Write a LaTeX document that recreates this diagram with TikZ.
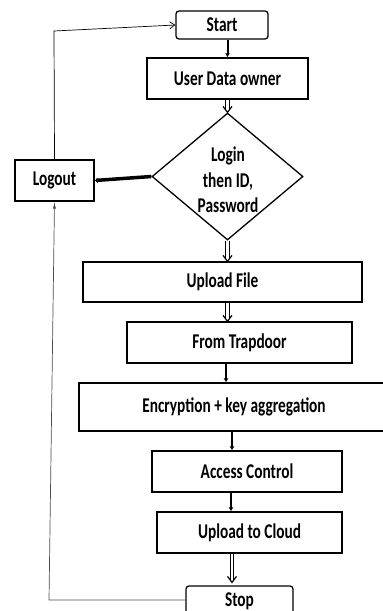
\documentclass[tikz,border=0pt]{standalone}
\usepackage{fontspec}
\setmainfont[FakeStretch=0.73]{Carlito}
\usetikzlibrary{shapes.geometric,arrows.meta,calc}
\begin{document}
\begin{tikzpicture}[x=1pt,y=-1pt,
  box/.style={draw, line width=1.3pt, inner sep=0pt, align=center,
    font=\bfseries\fontsize{21}{25.5}\selectfont},
  txt/.style={inner sep=0pt, align=center, font=\bfseries\fontsize{21}{25.5}\selectfont},
  thk/.style={line width=2pt, -{Latex[length=4pt,width=5pt]}},
  rail/.style={line width=1.2pt, black},
  dbltip/.style={line width=1.2pt, black, line join=miter},
  thin/.style={line width=0.7pt}]
\useasboundingbox (0,0) rectangle (383,611);
\node[box, minimum width=92pt, minimum height=28pt, rounded corners=3pt] (start) at (222,25) {Start};
\node[box, minimum width=161pt, minimum height=41pt] (user) at (227.5,78.5) {User Data owner};
\node[draw, diamond, line width=1.3pt, minimum width=151pt, minimum height=127pt, inner sep=0pt] (dia) at (227.5,176.5) {};
\node[txt] (diatext) at (228,180) {Login\\then ID,\\Password};
\node[box, minimum width=79pt, minimum height=41pt] (logout) at (54.5,180.5) {Logout};
\node[box, minimum width=279pt, minimum height=40pt] (upload) at (222.5,282) {Upload File};
\node[box, minimum width=225pt, minimum height=41pt] (trap) at (239.5,342.5) {From Trapdoor};
\node[box, minimum width=310pt, minimum height=48pt] (enc) at (234,407) {Encryption + key aggregation};
\node[box, minimum width=190pt, minimum height=41pt] (access) at (247,471.5) {Access Control};
\node[box, minimum width=185pt, minimum height=41pt] (cloud) at (249.5,532.5) {Upload to Cloud};
\node[box, minimum width=107pt, minimum height=34pt, rounded corners=3pt] (stop) at (239.5,603) {\raisebox{6pt}{Stop}};
% main flow
\draw[thk] (user.north |- start.south) -- (user.north);
% double arrows
\coordinate (xm) at (227.5,0);
\coordinate (a1) at (user.south -| xm);
\coordinate (b1) at (dia.north -| xm);
\draw[rail] ($(a1)+(-1.8,0)$) -- ($(b1)+(-1.8,-2)$);
\draw[rail] ($(a1)+(1.8,0)$) -- ($(b1)+(1.8,-2)$);
\draw[dbltip] ($(b1)+(-4.5,-6)$) -- (b1) -- ($(b1)+(4.5,-6)$);
\coordinate (a2) at (dia.south -| xm);
\coordinate (b2) at (upload.north -| xm);
\draw[rail] ($(a2)+(-1.8,0)$) -- ($(b2)+(-1.8,-2)$);
\draw[rail] ($(a2)+(1.8,0)$) -- ($(b2)+(1.8,-2)$);
\draw[dbltip] ($(b2)+(-4.5,-6)$) -- (b2) -- ($(b2)+(4.5,-6)$);
\coordinate (a3) at (upload.south -| xm);
\coordinate (b3) at (trap.north -| xm);
\draw[rail] ($(a3)+(-1.8,0)$) -- ($(b3)+(-1.8,-2)$);
\draw[rail] ($(a3)+(1.8,0)$) -- ($(b3)+(1.8,-2)$);
\draw[dbltip] ($(b3)+(-4.5,-6)$) -- (b3) -- ($(b3)+(4.5,-6)$);
\coordinate (x1) at (226,0);
\draw[thk] (trap.south -| x1) -- (enc.north -| x1);
\coordinate (x2) at (232,0);
\draw[thk] (enc.south -| x2) -- (access.north -| x2);
\coordinate (x3) at (231,0);
\draw[thk] (access.south -| x3) -- (cloud.north -| x3);
\coordinate (a4) at (cloud.south -| x2);
\coordinate (b4) at ($(stop.north -| x2)+(0,-3)$);
\draw[rail] ($(a4)+(-1.8,0)$) -- ($(b4)+(-1.8,-2)$);
\draw[rail] ($(a4)+(1.8,0)$) -- ($(b4)+(1.8,-2)$);
\draw[dbltip] ($(b4)+(-4.5,-6)$) -- (b4) -- ($(b4)+(4.5,-6)$);
% logout
\draw[line width=3.5pt, -{Latex[length=3pt,width=6pt]}] (dia.west) -- (logout.east);
\coordinate (c1) at (54,31);
\draw[thin, -{Straight Barb[length=5pt,width=7pt]}] (logout.north) -- (c1) -- (start.west);
\coordinate (c2) at (49,600);
\draw[thin, gray!60!black, -{Latex[length=7pt,width=3pt]}] (c2 -| stop.west) -- (c2) -- (logout.south);
\end{tikzpicture}
\end{document}
